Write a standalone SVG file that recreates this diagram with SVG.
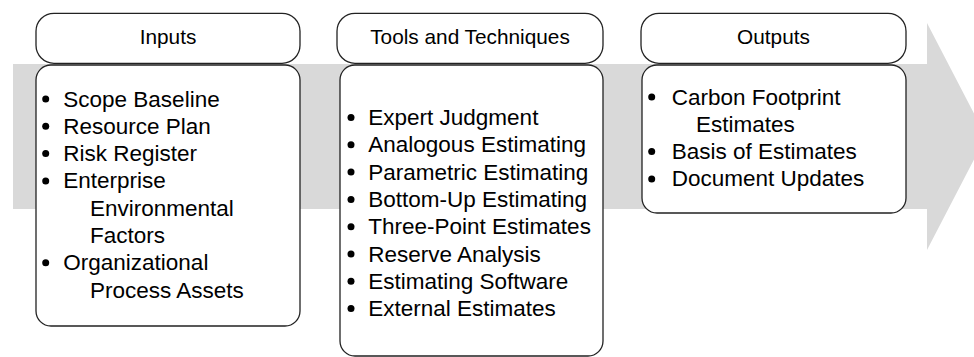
<svg xmlns="http://www.w3.org/2000/svg" width="974" height="357" viewBox="0 0 974 357">
<style>
.box{fill:#fff;stroke:#222;stroke-width:1.3}
.hd{font-family:"Liberation Sans",Arial,sans-serif;font-size:20.8px;fill:#000;text-anchor:middle}
.tx{font-family:"Liberation Sans",Arial,sans-serif;font-size:22.5px;fill:#000}
.bl{fill:#000}
</style>
<rect width="974" height="357" fill="#fff"/>
<g id="connectors">
<polygon points="13,64 927,64 927,23 986,136.5 927,250 927,209 13,209" fill="#d9d9d9"/>
</g>
<g id="inputs-header">
<rect class="box" x="36" y="13.3" width="264" height="50" rx="18"/>
<text class="hd" x="168" y="44">Inputs</text>
</g>
<g id="inputs-body">
<rect class="box" x="36" y="65" width="264" height="261" rx="15"/>
<circle class="bl" cx="45.7" cy="99" r="3.5"/>
<circle class="bl" cx="45.7" cy="126.3" r="3.5"/>
<circle class="bl" cx="45.7" cy="153.6" r="3.5"/>
<circle class="bl" cx="45.7" cy="180.9" r="3.5"/>
<circle class="bl" cx="45.7" cy="262.8" r="3.5"/>
<text class="tx" x="63.3" y="106.5">Scope Baseline</text>
<text class="tx" x="63.3" y="133.8">Resource Plan</text>
<text class="tx" x="63.3" y="161.1">Risk Register</text>
<text class="tx" x="63.3" y="188.4">Enterprise</text>
<text class="tx" x="90" y="215.7">Environmental</text>
<text class="tx" x="90" y="243">Factors</text>
<text class="tx" x="63.3" y="270.3">Organizational</text>
<text class="tx" x="90" y="297.6">Process Assets</text>
</g>
<g id="tools-header">
<rect class="box" x="337" y="13.3" width="266" height="50" rx="18"/>
<text class="hd" x="470" y="44">Tools and Techniques</text>
</g>
<g id="tools-body">
<rect class="box" x="340" y="65" width="263" height="291" rx="15"/>
<circle class="bl" cx="351" cy="117.5" r="3.5"/>
<circle class="bl" cx="351" cy="144.8" r="3.5"/>
<circle class="bl" cx="351" cy="172.1" r="3.5"/>
<circle class="bl" cx="351" cy="199.4" r="3.5"/>
<circle class="bl" cx="351" cy="226.7" r="3.5"/>
<circle class="bl" cx="351" cy="254" r="3.5"/>
<circle class="bl" cx="351" cy="281.3" r="3.5"/>
<circle class="bl" cx="351" cy="308.6" r="3.5"/>
<text class="tx" x="368.3" y="125">Expert Judgment</text>
<text class="tx" x="368.3" y="152.3">Analogous Estimating</text>
<text class="tx" x="368.3" y="179.6">Parametric Estimating</text>
<text class="tx" x="368.3" y="206.9">Bottom-Up Estimating</text>
<text class="tx" x="368.3" y="234.2">Three-Point Estimates</text>
<text class="tx" x="368.3" y="261.5">Reserve Analysis</text>
<text class="tx" x="368.3" y="288.8">Estimating Software</text>
<text class="tx" x="368.3" y="316.1">External Estimates</text>
</g>
<g id="outputs-header">
<rect class="box" x="641" y="13.3" width="265" height="50" rx="18"/>
<text class="hd" x="773.5" y="44">Outputs</text>
</g>
<g id="outputs-body">
<rect class="box" x="642" y="65" width="264" height="148" rx="15"/>
<circle class="bl" cx="651.7" cy="97" r="3.5"/>
<circle class="bl" cx="651.7" cy="151.6" r="3.5"/>
<circle class="bl" cx="651.7" cy="178.9" r="3.5"/>
<text class="tx" x="671.7" y="104.5">Carbon Footprint</text>
<text class="tx" x="696" y="131.8">Estimates</text>
<text class="tx" x="671.7" y="159.1">Basis of Estimates</text>
<text class="tx" x="671.7" y="186.4">Document Updates</text>
</g>
</svg>
